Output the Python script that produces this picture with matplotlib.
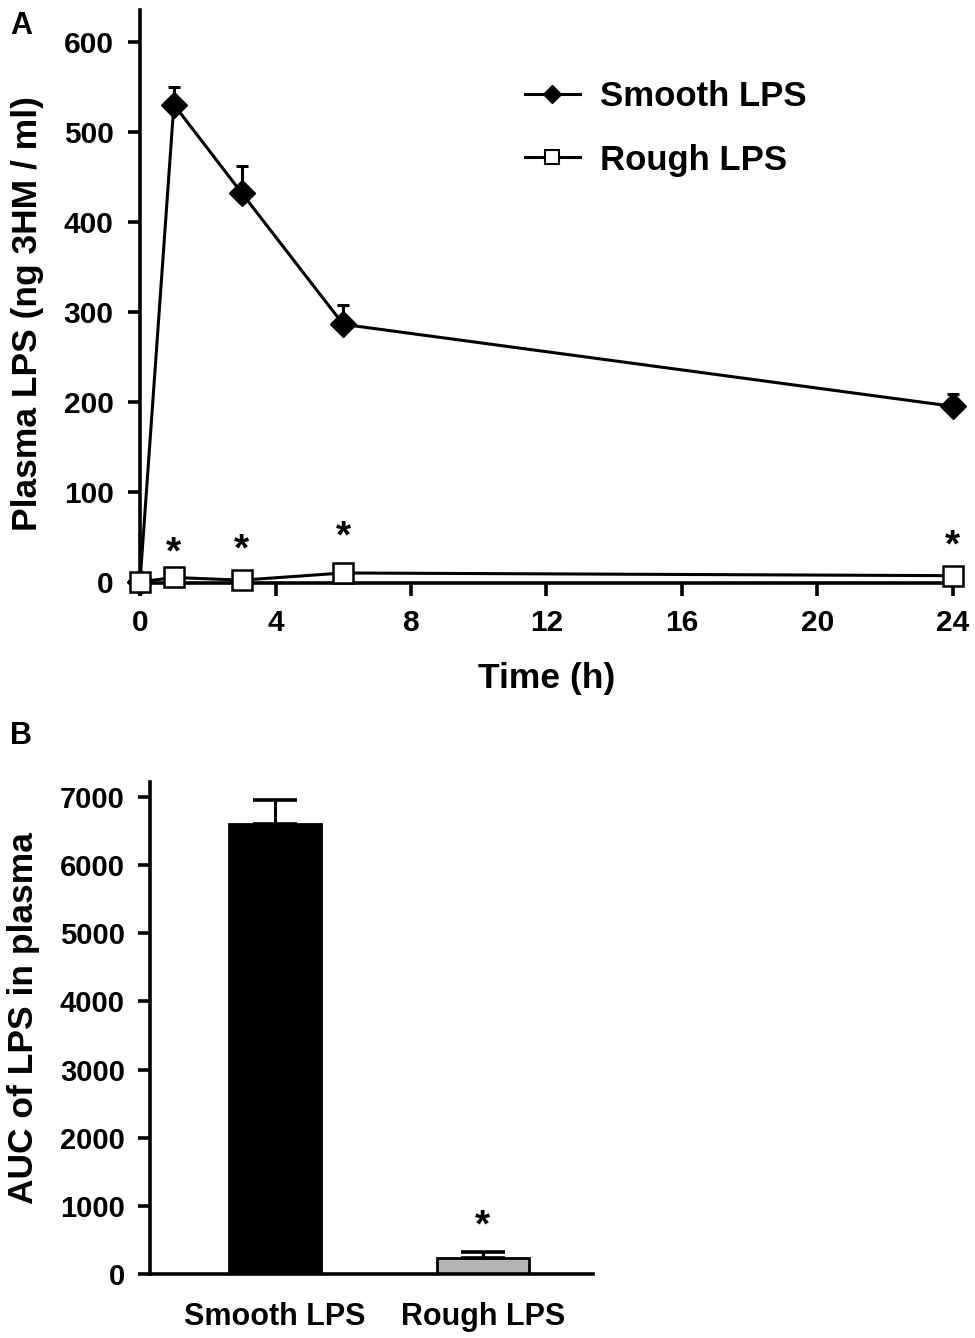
import numpy as np
import matplotlib
matplotlib.use('Agg')
import matplotlib.pyplot as plt
from matplotlib.lines import Line2D

plt.rcParams['font.family'] = ['Liberation Sans', 'DejaVu Sans']
plt.rcParams['font.weight'] = 'bold'

# panel A: plasma LPS over time
hours = [0, 1, 3, 6, 24]
smooth_lps = [0, 530, 432, 286, 195]
smooth_err = [0, 20, 30, 22, 14]
rough_lps = [0, 5, 2, 10, 7]
star_hours = [1, 3, 6, 24]
star_level = [32, 35, 49, 39]

# panel B: AUC
groups = ['Smooth LPS', 'Rough LPS']
auc = [6600, 235]
auc_err = [360, 90]
bar_colors = ['#000000', '#b3b5b5']
auc_star = 700

fig = plt.figure(figsize=(9.75, 13.38), dpi=100)

# ---------- A ----------
ax = fig.add_axes([0.1436, 0.5643, 0.8338, 0.4282])
ax.errorbar(hours, smooth_lps, yerr=[np.zeros(len(smooth_err)), smooth_err],
            color='black', lw=2.2, marker='D', ms=13, mfc='black', mec='black',
            ecolor='black', elinewidth=2.2, capsize=4.5, capthick=2.2,
            clip_on=False, zorder=3)
ax.plot(hours, rough_lps, color='black', lw=2.2, marker='s', ms=14,
        mfc='white', mec='black', mew=1.8, clip_on=False, zorder=4)
for h, lv in zip(star_hours, star_level):
    ax.text(h, lv, '*', ha='center', va='center', fontsize=28, fontweight='bold')

ax.set_xlim(0, 24)
ax.set_ylim(-1.1, 635)
ax.set_xticks([0, 4, 8, 12, 16, 20, 24])
ax.set_yticks([0, 100, 200, 300, 400, 500, 600])
ax.spines['top'].set_visible(False)
ax.spines['right'].set_visible(False)
for s in ['left', 'bottom']:
    ax.spines[s].set_linewidth(2.6)
ax.tick_params(width=2.6, length=9, labelsize=21.5, pad=10)
ax.set_xlabel('Time (h)', fontsize=25.5, fontweight='bold', labelpad=18)
ax.set_ylabel('Plasma LPS (ng 3HM / ml)', fontsize=25.5, fontweight='bold')
ax.yaxis.set_label_coords(-0.118, 0.471)

handles = [
    Line2D([], [], color='black', lw=2.2, marker='D', ms=9.5, mfc='black', mec='black'),
    Line2D([], [], color='black', lw=2.2, marker='s', ms=10, mfc='white', mec='black', mew=1.5),
]
ax.legend(handles, ['Smooth LPS', 'Rough LPS'], loc='upper left',
          bbox_to_anchor=(525 / 975, 1 - 80 / 1338),
          bbox_transform=fig.transFigure, frameon=False, fontsize=25,
          handlelength=1.58, handletextpad=0.58, labelspacing=0.88,
          borderpad=0, borderaxespad=0)
fig.text(10 / 975, 1 - 26 / 1338, 'A', fontsize=22, fontweight='bold', va='center')

# ---------- B ----------
bx = fig.add_axes([0.1538, 0.0478, 0.4544, 0.3677])
xpos = np.arange(len(groups))
bx.bar(xpos, auc, width=0.44, color=bar_colors, edgecolor='black', linewidth=2)
bx.errorbar(xpos, auc, yerr=[np.zeros(len(auc_err)), auc_err], fmt='none',
            ecolor='black', elinewidth=2.2, capsize=16, capthick=2.6)
bx.text(xpos[1], auc_star, '*', ha='center', va='center', fontsize=28, fontweight='bold')
bx.set_xlim(-0.6, 1.53)
bx.set_ylim(0, 7220)
bx.set_xticks(xpos)
bx.set_xticklabels(groups, fontsize=22, fontweight='bold')
bx.set_yticks(range(0, 7001, 1000))
bx.spines['top'].set_visible(False)
bx.spines['right'].set_visible(False)
for s in ['left', 'bottom']:
    bx.spines[s].set_linewidth(2.6)
bx.tick_params(axis='y', width=2.6, length=9, labelsize=21, pad=9)
bx.tick_params(axis='x', length=0, pad=20)
bx.set_ylabel('AUC of LPS in plasma', fontsize=25.5, fontweight='bold')
bx.yaxis.set_label_coords(-0.248, 0.52)
fig.text(10 / 975, 1 - 736 / 1338, 'B', fontsize=22, fontweight='bold', va='center')

fig.savefig('out.png', dpi=100)
